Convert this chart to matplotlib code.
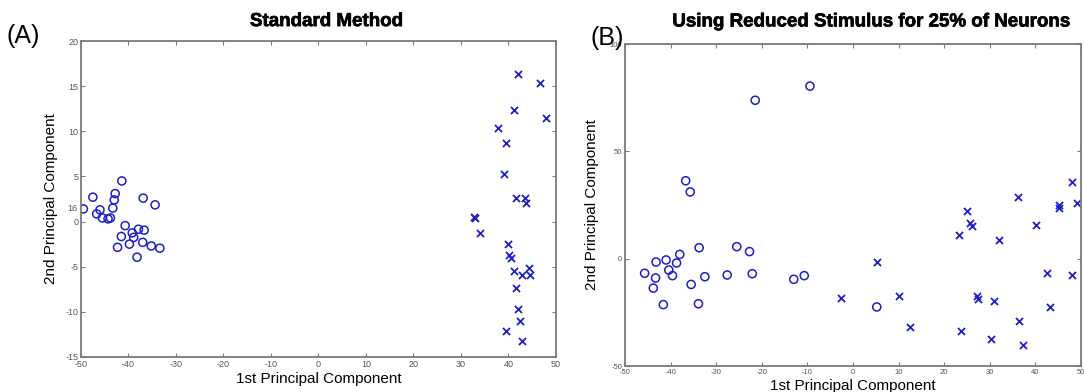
import numpy as np
import matplotlib.pyplot as plt
import matplotlib.patheffects as pe

plt.rcParams['font.family'] = ['Liberation Sans', 'DejaVu Sans']
plt.rcParams['axes.unicode_minus'] = False

# (A) standard method: first and second principal component scores
a_circ_x = [-49.5, -47.5, -46.0, -46.7, -45.5, -44.3, -43.8, -43.3, -43.0, -42.8,
            -41.4, -36.9, -34.4, -40.7, -39.2, -37.9, -36.7, -38.9, -41.5, -42.3,
            -39.8, -37.0, -35.2, -33.4, -38.2]
a_circ_y = [1.4, 2.7, 1.3, 0.85, 0.4, 0.3, 0.4, 1.5, 2.4, 3.1,
            4.5, 2.6, 1.85, -0.45, -1.25, -0.85, -0.95, -1.75, -1.65, -2.85,
            -2.5, -2.3, -2.7, -2.95, -3.95]
a_cross_x = [42.0, 46.7, 41.2, 47.9, 37.8, 39.4, 39.1, 41.5, 43.4, 43.7,
             32.8, 33.0, 33.9, 39.9, 40.1, 40.6, 44.3, 41.2, 42.8, 44.6,
             41.5, 41.9, 42.5, 39.5, 42.8]
a_cross_y = [16.4, 15.4, 12.4, 11.5, 10.4, 8.7, 5.25, 2.6, 2.6, 2.07,
             0.55, 0.4, -1.3, -2.5, -3.7, -4.0, -5.1, -5.5, -5.95, -5.9,
             -7.35, -9.7, -11.05, -12.1, -13.2]

# (B) reduced stimulus for 25% of neurons
b_circ_x = [-9.45, -21.45, -36.7, -35.7, -33.75, -25.5, -22.7, -38.0, -41.0, -43.2,
            -38.7, -40.4, -45.7, -39.6, -43.3, -32.5, -27.6, -22.1, -13.0, -10.7,
            -35.5, -43.8, -41.6, -33.9, 5.2]
b_circ_y = [80.4, 73.8, 36.3, 31.1, 5.1, 5.6, 3.3, 2.0, -0.6, -1.55,
            -2.0, -5.3, -6.8, -7.9, -9.0, -8.4, -7.6, -7.0, -9.6, -7.9,
            -12.0, -13.7, -21.4, -21.0, -22.5]
b_cross_x = [47.95, 36.2, 45.1, 45.2, 49.0, 24.9, 25.7, 26.1, 40.1, 23.2,
             31.9, 5.3, 42.6, 47.95, -2.55, 10.1, 27.2, 27.5, 30.9, 43.2,
             12.4, 36.4, 23.7, 30.3, 37.2]
b_cross_y = [35.7, 28.6, 25.2, 23.8, 25.9, 22.2, 16.6, 15.1, 15.7, 11.0,
             8.7, -1.55, -6.7, -7.5, -18.3, -17.4, -17.5, -18.6, -19.6, -22.4,
             -32.0, -29.2, -33.7, -37.6, -40.4]

a_xticks = np.arange(-50, 51, 10)
a_yticks = np.arange(-15, 21, 5)
b_xticks = np.arange(-50, 51, 10)
b_yticks = [-50, 0, 50, 100]

blue = '#1f1fc4'
frame = '#7a7a7a'
ticktxt = '#555555'

fig = plt.figure(figsize=(10.84, 3.92), dpi=100)


def style_axes(ax, xticks, yticks, xlim, ylim, fs):
    ax.set_xlim(*xlim)
    ax.set_ylim(*ylim)
    ax.set_xticks(xticks)
    ax.set_yticks(yticks)
    ax.tick_params(direction='in', top=True, right=True, length=3, width=0.8,
                   color=frame, labelcolor=ticktxt, labelsize=fs, pad=2)
    for s in ax.spines.values():
        s.set_color(frame)
        s.set_linewidth(1.3)


# left panel
ax1 = fig.add_axes([0.0747, 0.0893, 0.4382, 0.8061])
ax1.scatter(a_circ_x, a_circ_y, s=34, facecolors='none', edgecolors=blue, linewidths=1.1)
ax1.scatter(a_cross_x, a_cross_y, s=26, marker='x', color=blue, linewidths=1.3)
style_axes(ax1, a_xticks, a_yticks, (-50, 50), (-15, 20), 6.5)
ax1.set_xlabel('1st Principal Component', fontsize=11, labelpad=2)
ax1.set_ylabel('2nd Principal Component', fontsize=11, labelpad=5)
ax1.text(-50.8, 1.5, '16', fontsize=6.5, color=ticktxt, ha='right', va='center')

# right panel
ax2 = fig.add_axes([0.5766, 0.0663, 0.4207, 0.8214])
ax2.scatter(b_circ_x, b_circ_y, s=34, facecolors='none', edgecolors=blue, linewidths=1.1)
ax2.scatter(b_cross_x, b_cross_y, s=26, marker='x', color=blue, linewidths=1.3)
style_axes(ax2, b_xticks, b_yticks, (-50, 50), (-50, 100), 5.5)
ax2.set_xlabel('1st Principal Component', fontsize=11, labelpad=2)
ax2.set_ylabel('2nd Principal Component', fontsize=11, labelpad=8)

# titles and panel letters
heavy = [pe.withStroke(linewidth=0.5, foreground='black')]
fig.text(0.301, 0.945, 'Standard Method', fontsize=13.5, fontweight='bold',
         ha='center', va='center', path_effects=heavy)
fig.text(0.8035, 0.944, 'Using Reduced Stimulus for 25% of Neurons', fontsize=13.5,
         fontweight='bold', ha='center', va='center', path_effects=heavy)
fig.text(0.006, 0.907, '(A)', fontsize=18, ha='left', va='center')
fig.text(0.545, 0.903, '(B)', fontsize=18, ha='left', va='center')

fig.savefig('out.png', dpi=100)
